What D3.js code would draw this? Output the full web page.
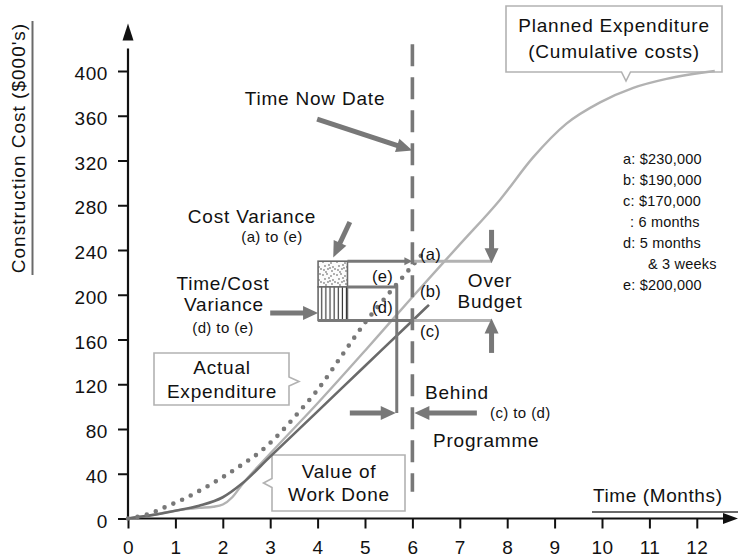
<!DOCTYPE html>
<html><head><meta charset="utf-8">
<script src="https://cdn.jsdelivr.net/npm/d3@7"></script>
<style>
body{margin:0;background:#fff}
svg{display:block}
text{font-family:"Liberation Sans",Arial,Helvetica,sans-serif;fill:#111}
</style>
</head><body>
<script>
// ---------- data ----------
const xTicks = [0,1,2,3,4,5,6,7,8,9,10,11,12];
const yTicks = [0,40,80,120,160,200,240,280,320,360,400];

// Planned Expenditure (cumulative costs) - light grey S-curve
const plannedMonths = [0,0.5,1,1.5,1.8,2,2.2,2.4,3,4,5,6,7,7.85,8.55,9.25,9.96,10.66,11.36,12.38];
const plannedCost   = [0,3,7,9.5,10.5,12.5,19,30,58,103,150,198,245,285,323,353,372,385,393,400];

// Actual Expenditure - dotted
const actualMonths = [0,0.4,0.8,1.2,1.6,2,2.4,2.8,3.2,3.6,4,4.5,5,5.5,5.9,6.3];
const actualCost   = [0,3.5,10.5,18,27,37,48,60,76,95,115,145,175,201,221,241];

// Value of Work Done - dark solid
const workMonths = [0,0.5,1,1.5,2,2.4,3,4,5,6,6.35];
const workCost   = [0,3,7,11.5,19,31,55.3,95.8,136.3,176.8,191];

const timeNowMonth = 6;
const dMonth = 5.67;           // 5 months & 3 weeks
const levelA = 230, levelE = 207, levelC = 177;
const legendLines = ["a: $230,000","b: $190,000","c: $170,000",": 6 months","d: 5 months","& 3 weeks","e: $200,000"];

// ---------- setup ----------
const W = 738, H = 559;
const svg = d3.select("body").append("svg").attr("width", W).attr("height", H);
const x = d3.scaleLinear().domain([0,12]).range([128, 696.8]);
const y = d3.scaleLinear().domain([0,400]).range([518.5, 71]);

const DARK = "#6a6a6a", MID = "#787878", LIGHT = "#b2b2b2";
const FS = 19, LS = "0.8px";

const defs = svg.append("defs");
// stipple pattern
const stip = defs.append("pattern").attr("id","stip").attr("patternUnits","userSpaceOnUse")
  .attr("width",14).attr("height",13);
stip.append("rect").attr("width",14).attr("height",13).attr("fill","#fbfbfb");
const stipDots = [[1,2],[5,1],[9,3],[12,1],[3,6],[7,5],[11,7],[2,10],[6,9],[10,11],[13,9],[4,12],[8,8]];
stip.selectAll("circle").data(stipDots).join("circle")
  .attr("cx",d=>d[0]).attr("cy",d=>d[1]).attr("r",0.65).attr("fill","#222");
// vertical hatch
const vh = defs.append("pattern").attr("id","vhatch").attr("patternUnits","userSpaceOnUse")
  .attr("width",4.1).attr("height",10);
vh.append("rect").attr("width",4.1).attr("height",10).attr("fill","#fff");
vh.append("line").attr("x1",2).attr("x2",2).attr("y1",0).attr("y2",10).attr("stroke","#111").attr("stroke-width",1);

function arrowHead(tx, ty, angle, len, half, color) {
  const ca = Math.cos(angle), sa = Math.sin(angle);
  const bx = tx - len*ca, by = ty - len*sa;
  const p = [[tx,ty],[bx - half*sa, by + half*ca],[bx + half*sa, by - half*ca]];
  svg.append("path").attr("d","M"+p.map(q=>q.join(",")).join("L")+"Z").attr("fill",color);
}
function arrow(x1,y1,x2,y2,color,w,len,half){
  const ang = Math.atan2(y2-y1,x2-x1);
  const ex = x2 - (len-2)*Math.cos(ang), ey = y2 - (len-2)*Math.sin(ang);
  svg.append("line").attr("x1",x1).attr("y1",y1).attr("x2",ex).attr("y2",ey)
    .attr("stroke",color).attr("stroke-width",w);
  arrowHead(x2,y2,ang,len,half,color);
}
function label(t, px, py, opts={}) {
  return svg.append("text").attr("x",px).attr("y",py)
    .attr("text-anchor",opts.anchor||"start")
    .attr("font-size",opts.size||FS)
    .attr("letter-spacing",opts.ls!==undefined?opts.ls:LS)
    .text(t);
}
function callout(x0,y0,x1,y1,side,pos,len,half){
  let d;
  if(side==="bottom"){
    d=`M${x0},${y0}H${x1}V${y1}H${pos+half}L${pos},${y1+len}L${pos-half},${y1}H${x0}Z`;
  } else if(side==="right"){
    d=`M${x0},${y0}H${x1}V${pos-half}L${x1+len},${pos}L${x1},${pos+half}V${y1}H${x0}Z`;
  } else {
    d=`M${x0},${y0}H${x1}V${y1}H${x0}V${pos+half}L${x0-len},${pos}L${x0},${pos-half}Z`;
  }
  svg.append("path").attr("d",d).attr("fill","#fff").attr("stroke",LIGHT).attr("stroke-width",1.6);
}

// ---------- axes ----------
const yAxis = svg.append("g").attr("transform",`translate(${x(0)},0)`)
  .call(d3.axisLeft(y).tickValues(yTicks).tickSize(10).tickPadding(10));
yAxis.select(".domain").remove();
yAxis.selectAll(".tick line").attr("stroke","#111").attr("stroke-width",2);
yAxis.selectAll(".tick text").attr("font-size",FS).attr("letter-spacing","0.6px")
  .attr("font-family",'"Liberation Sans",Arial,sans-serif').attr("fill","#111").attr("dy","0.45em");

const xAxis = svg.append("g").attr("transform",`translate(0,${y(0)})`)
  .call(d3.axisBottom(x).tickValues(xTicks).tickSize(10).tickPadding(12));
xAxis.select(".domain").remove();
xAxis.selectAll(".tick line").attr("stroke","#111").attr("stroke-width",2);
xAxis.selectAll(".tick text").attr("font-size",FS).attr("letter-spacing","0.4px")
  .attr("font-family",'"Liberation Sans",Arial,sans-serif').attr("fill","#111");

// axis lines with arrows
svg.append("line").attr("x1",x(0)).attr("x2",x(0)).attr("y1",y(0)+1).attr("y2",y(0)-470)
  .attr("stroke","#111").attr("stroke-width",2.2);
arrowHead(x(0), y(0)-495, -Math.PI/2, 17, 5.5, "#111");
svg.append("line").attr("x1",x(0)-1).attr("x2",727).attr("y1",y(0)).attr("y2",y(0))
  .attr("stroke","#111").attr("stroke-width",2.2);
arrowHead(738, y(0), 0, 15, 5.5, "#111");

// axis titles
svg.append("text").attr("transform","translate(25,148) rotate(-90)")
  .attr("text-anchor","middle").attr("font-size",FS).attr("letter-spacing","1px")
  .text("Construction Cost ($000's)");
svg.append("line").attr("x1",32.5).attr("x2",32.5).attr("y1",21).attr("y2",275)
  .attr("stroke",DARK).attr("stroke-width",2);
label("Time (Months)", 593, 502, {ls:"0.6px"});
svg.append("line").attr("x1",592).attr("x2",738).attr("y1",512).attr("y2",512)
  .attr("stroke",DARK).attr("stroke-width",2);

// ---------- callout boxes ----------
callout(506,6,722,72,"bottom",626,9,4.5);
label("Planned Expenditure", 614, 32, {anchor:"middle"});
label("(Cumulative costs)", 614, 58, {anchor:"middle"});

callout(154,353,289,405,"right",381.5,10,4.5);
label("Actual", 222, 374, {anchor:"middle"});
label("Expenditure", 222, 398, {anchor:"middle"});

callout(272,455,405,511,"left",483,8.5,4.5);
label("Value of", 339, 478, {anchor:"middle"});
label("Work Done", 339, 501, {anchor:"middle"});

// ---------- curves ----------
const line = d3.line().x(d=>x(d[0])).y(d=>y(d[1])).curve(d3.curveMonotoneX);
svg.append("path").attr("d", line(d3.zip(plannedMonths, plannedCost)))
  .attr("fill","none").attr("stroke",LIGHT).attr("stroke-width",2.4);
svg.append("path").attr("d", line(d3.zip(workMonths, workCost)))
  .attr("fill","none").attr("stroke",DARK).attr("stroke-width",2.6);
svg.append("path").attr("d", line(d3.zip(actualMonths, actualCost)))
  .attr("fill","none").attr("stroke",MID).attr("stroke-width",4.6)
  .attr("stroke-linecap","round").attr("stroke-dasharray","0 9.6");

// ---------- variance boxes ----------
const bx0 = x(4.01), bx1 = x(4.63);
svg.append("rect").attr("x",bx0).attr("y",y(levelA)).attr("width",bx1-bx0).attr("height",y(levelE)-y(levelA))
  .attr("fill","url(#stip)").attr("stroke",DARK).attr("stroke-width",1.6);
svg.append("rect").attr("x",bx0).attr("y",y(levelE)).attr("width",bx1-bx0).attr("height",y(levelC)-y(levelE))
  .attr("fill","url(#vhatch)").attr("stroke",DARK).attr("stroke-width",1.6);

// level lines
svg.append("line").attr("x1",bx1).attr("x2",x(timeNowMonth)-6).attr("y1",y(levelA)).attr("y2",y(levelA))
  .attr("stroke",MID).attr("stroke-width",3);
arrowHead(x(timeNowMonth), y(levelA), 0, 8, 4, MID);
svg.append("line").attr("x1",x(timeNowMonth)).attr("x2",x(7.67)).attr("y1",y(levelA)).attr("y2",y(levelA))
  .attr("stroke",LIGHT).attr("stroke-width",3);
svg.append("path").attr("d",`M${bx1},${y(levelE)}H${x(dMonth)}V${y(94.3)}`)
  .attr("fill","none").attr("stroke",MID).attr("stroke-width",3);
svg.append("line").attr("x1",bx0).attr("x2",x(timeNowMonth)).attr("y1",y(levelC)).attr("y2",y(levelC))
  .attr("stroke",MID).attr("stroke-width",3);
svg.append("line").attr("x1",x(timeNowMonth)).attr("x2",x(7.67)).attr("y1",y(levelC)).attr("y2",y(levelC))
  .attr("stroke",LIGHT).attr("stroke-width",3);

// time now dashed line
svg.append("line").attr("x1",x(timeNowMonth)).attr("x2",x(timeNowMonth)).attr("y1",y(424)).attr("y2",y(24))
  .attr("stroke",MID).attr("stroke-width",3.6).attr("stroke-dasharray","22 11");

// ---------- arrows ----------
arrow(x(3.99), y(357), x(6), y(329), MID, 5, 16, 7);          // Time Now Date
arrow(x(4.68), y(265), x(4.33), y(233.4), MID, 5, 16, 7);     // Cost Variance
arrow(x(3.0), y(183.6), x(4.01), y(183.6), MID, 5, 15, 7);    // Time/Cost Variance
arrow(x(4.68), y(94.3), x(dMonth)-1, y(94.3), MID, 5, 15, 7); // behind (left)
arrow(x(7.36), y(94.3), x(6)+2, y(94.3), MID, 5, 15, 7);      // behind (right)
arrow(x(7.67), y(258), x(7.67), y(levelA)+2, MID, 5, 15, 7);  // over budget down
arrow(x(7.67), y(148), x(7.67), y(levelC)-2, MID, 5, 15, 7);  // over budget up

// ---------- annotation text ----------
label("Time Now Date", 315, 105, {anchor:"middle"});
label("Cost Variance", 252, 223, {anchor:"middle"});
label("(a) to (e)", 272, 242, {anchor:"middle", size:15, ls:"0.4px"});
label("Time/Cost", 223, 290, {anchor:"middle"});
label("Variance", 224, 311, {anchor:"middle"});
label("(d) to (e)", 223, 333, {anchor:"middle", size:15, ls:"0.4px"});
label("Over", 490, 287, {anchor:"middle"});
label("Budget", 490, 308, {anchor:"middle"});
label("Behind", 425, 399);
label("(c) to (d)", 490, 418, {size:15, ls:"0.4px"});
label("Programme", 433, 447);
const pl = {size:16.5, ls:"0.3px"};
label("(a)", 420, 260, pl);
label("(b)", 420, 297, pl);
label("(c)", 420, 337, pl);
label("(e)", 372, 282, pl);
label("(d)", 372, 313, pl);

// legend
const legendDx = [0,0,0,7,0,25,0];
legendLines.forEach((t,i)=>{
  label(t, 623 + legendDx[i], 163.5 + i*21, {size:14.5, ls:"0.2px"});
});
</script>
</body></html>
